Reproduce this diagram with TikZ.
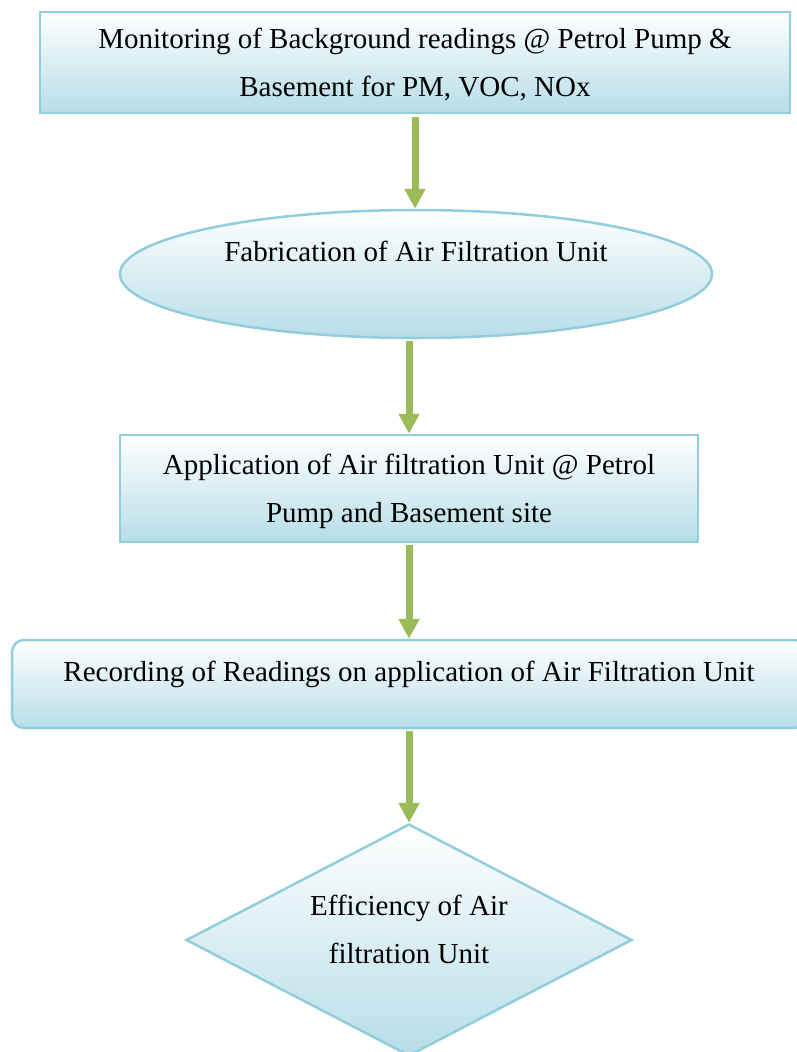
\documentclass[tikz,border=0pt]{standalone}
\usepackage{fontspec}
\setmainfont{Liberation Serif}
\usetikzlibrary{arrows.meta,positioning,shapes.geometric}
\definecolor{edgeblue}{RGB}{146,205,220}
\definecolor{fillblue}{RGB}{183,221,232}
\definecolor{flowgreen}{RGB}{155,187,89}

\begin{document}
\begin{tikzpicture}[
  node distance=94.5pt,
  every node/.style={font=\fontsize{29}{48}\selectfont, align=center},
  panel/.style={draw=edgeblue, line width=2.5pt, top color=white,
    bottom color=fillblue, inner sep=4pt},
  box/.style={panel, rectangle, minimum height=104pt, text depth=0pt},
  oval/.style={panel, ellipse, minimum width=592pt, minimum height=128pt,
    text depth=45pt},
  roundbox/.style={panel, rectangle, rounded corners=12pt, minimum width=794pt,
    minimum height=88pt, text depth=25pt},
  decision/.style={panel, diamond, aspect=1.92, minimum width=446pt,
    minimum height=232pt, text depth=21pt},
  arrow/.style={-{Triangle[width=20pt,length=20pt]}, line width=7pt,
    draw=flowgreen}
]
\useasboundingbox (0,0) rectangle (796pt,-1052pt);

\node[box, minimum width=750pt, minimum height=101pt] (monitor) at (415pt,-62.5pt)
  {Monitoring of Background readings @ Petrol Pump \&\\Basement for PM, VOC, NOx};
\node[oval, below=of monitor, xshift=1pt] (fab) {Fabrication of Air Filtration Unit};
\node[box, minimum width=578pt, minimum height=107pt, below=of fab, xshift=-7pt] (apply)
  {Application of Air filtration Unit @ Petrol\\Pump and Basement site};
\node[roundbox, below=95.5pt of apply] (record)
  {Recording of Readings on application of Air Filtration Unit};
\node[decision, below=93.5pt of record] (check) {Efficiency of Air\\filtration Unit};

\draw[arrow] ([yshift=-3pt]monitor.south) -- (monitor.south |- fab.north);
\draw[arrow] ([yshift=-2pt]fab.south -| apply.north) -- (apply.north);
\draw[arrow] ([yshift=-2pt]apply.south) -- (record.north);
\draw[arrow] ([yshift=-2pt]record.south) -- (check.north);
\end{tikzpicture}
\end{document}
